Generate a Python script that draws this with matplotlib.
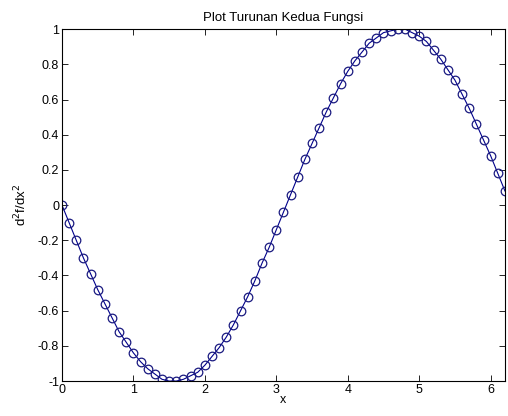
import matplotlib
matplotlib.use('Agg')
import matplotlib.pyplot as plt

# x values (step 0.1)
x_vals = [0.0, 0.1, 0.2, 0.3, 0.4, 0.5, 0.6, 0.7, 0.8, 0.9,
          1.0, 1.1, 1.2, 1.3, 1.4, 1.5, 1.6, 1.7, 1.8, 1.9,
          2.0, 2.1, 2.2, 2.3, 2.4, 2.5, 2.6, 2.7, 2.8, 2.9,
          3.0, 3.1, 3.2, 3.3, 3.4, 3.5, 3.6, 3.7, 3.8, 3.9,
          4.0, 4.1, 4.2, 4.3, 4.4, 4.5, 4.6, 4.7, 4.8, 4.9,
          5.0, 5.1, 5.2, 5.3, 5.4, 5.5, 5.6, 5.7, 5.8, 5.9,
          6.0, 6.1, 6.2]
d2f_vals = [0.00, -0.10, -0.20, -0.30, -0.39, -0.48, -0.56, -0.64, -0.72, -0.78,
            -0.84, -0.89, -0.93, -0.96, -0.99, -1.00, -1.00, -0.99, -0.97, -0.95,
            -0.91, -0.86, -0.81, -0.75, -0.68, -0.60, -0.52, -0.43, -0.33, -0.24,
            -0.14, -0.04, 0.06, 0.16, 0.26, 0.35, 0.44, 0.53, 0.61, 0.69,
            0.76, 0.82, 0.87, 0.92, 0.95, 0.98, 0.99, 1.00, 1.00, 0.98,
            0.96, 0.93, 0.88, 0.83, 0.77, 0.71, 0.63, 0.55, 0.46, 0.37,
            0.28, 0.18, 0.08]

x_ticks = [0, 1, 2, 3, 4, 5, 6]
y_ticks = [-1, -0.8, -0.6, -0.4, -0.2, 0, 0.2, 0.4, 0.6, 0.8, 1]

plt.rcParams['font.family'] = ['Liberation Sans', 'DejaVu Sans']

fig = plt.figure(figsize=(5.08, 4.16), dpi=100)
ax = fig.add_axes([0.122, 0.084, 0.872, 0.846])

ax.plot(x_vals, d2f_vals, color='#00008B', linewidth=0.8,
        marker='o', markersize=6.2, markerfacecolor='none',
        markeredgecolor='#1a1a80', markeredgewidth=0.9)

ax.set_xlim(0, 6.2)
ax.set_ylim(-1, 1)
ax.set_xticks(x_ticks)
ax.set_yticks(y_ticks)
ax.set_yticklabels([('%g' % v) for v in y_ticks])
ax.tick_params(direction='in', top=True, right=True, labelsize=9, length=4, width=0.6, pad=2)
for s in ax.spines.values():
    s.set_linewidth(0.8)

ax.set_title('Plot Turunan Kedua Fungsi', fontsize=9.5, pad=6)
ax.set_xlabel('x', fontsize=9, labelpad=-1)
ax.set_ylabel('d$^2$f/dx$^2$', fontsize=9.5, labelpad=6)

fig.savefig('out.png', dpi=100)
